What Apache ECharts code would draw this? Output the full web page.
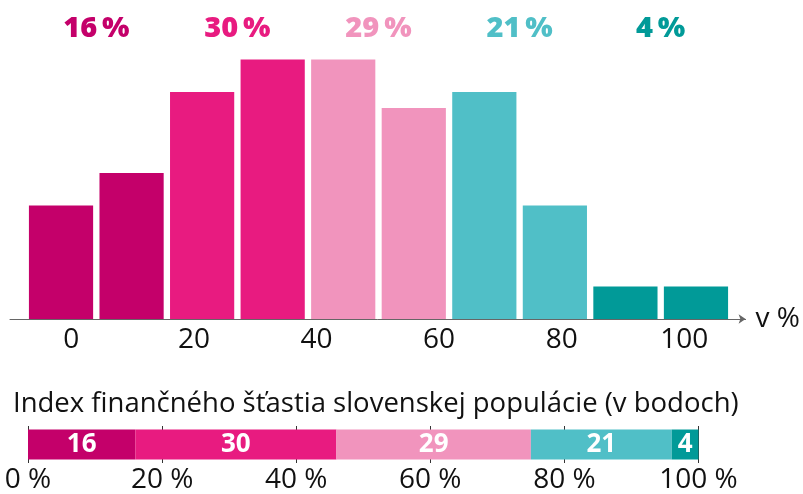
<!DOCTYPE html>
<html>
<head>
<meta charset="utf-8">
<script src="https://cdn.jsdelivr.net/npm/echarts@6/dist/echarts.min.js"></script>
<style>
  html, body { margin: 0; padding: 0; background: #fff; }
  #chart { width: 803px; height: 494px; }
</style>
</head>
<body>
<div id="chart"></div>
<script>
// rozdelenie populácie podľa indexu (v %)
var bins = ['1', '2', '3', '4', '5', '6', '7', '8', '9', '10'];
var binValues = [7, 9, 14, 16, 16, 13, 14, 7, 2, 2];
var groups = ['A', 'B', 'C', 'D', 'E'];
var groupShares = [16, 30, 29, 21, 4];
var groupColors = ['#c4006a', '#e81b80', '#f194bd', '#50bfc7', '#019a98'];
var scaleTicks = [0, 20, 40, 60, 80, 100];

var font = 'Open Sans';
var chart = echarts.init(document.getElementById('chart'));

var option = {
    animation: false,
    textStyle: { fontFamily: font },
    title: {
        text: 'Index finančného šťastia slovenskej populácie (v bodoch)',
        left: 8,
        top: 385,
        textStyle: { fontFamily: font, fontSize: 27.5, fontWeight: 'normal', color: '#111' }
    },
    grid: [
        { left: 25.75, width: 705.5, top: 27, height: 292 },
        { left: 10, width: 736, top: 27, height: 292 },
        { left: 28, width: 670.5, top: 426, height: 41 }
    ],
    xAxis: [
        { type: 'category', gridIndex: 0, data: bins, show: false },
        { type: 'category', gridIndex: 0, data: groups, show: false },
        {
            type: 'value', gridIndex: 1, min: -10, max: 110, interval: 10,
            axisLine: { show: true, symbol: ['none', 'arrow'], symbolSize: [7, 7], lineStyle: { color: '#666', width: 1 } },
            axisTick: { show: false },
            splitLine: { show: false },
            axisLabel: {
                margin: 7, fontSize: 28, color: '#111',
                formatter: function (v) { return scaleTicks.indexOf(v) >= 0 ? String(v) : ''; }
            },
            name: 'v %', nameLocation: 'end', nameGap: 10,
            nameTextStyle: { fontSize: 28, color: '#111', verticalAlign: 'middle', padding: [0, 0, 4, 0] }
        },
        {
            type: 'value', gridIndex: 2, min: 0, max: 100, interval: 20,
            axisLine: { show: false },
            axisTick: { show: false },
            splitLine: { show: true, lineStyle: { color: '#333', width: 1 } },
            axisLabel: { margin: 3, fontSize: 28, color: '#111', formatter: '{value} %' }
        }
    ],
    yAxis: [
        { type: 'value', gridIndex: 0, min: 0, max: 18, show: false },
        { type: 'value', gridIndex: 1, min: 0, max: 18, show: false },
        { type: 'category', gridIndex: 2, data: ['index'], show: false }
    ],
    series: [
        {
            type: 'bar',
            xAxisIndex: 0, yAxisIndex: 0,
            barCategoryGap: '9%',
            data: binValues.map(function (v, i) {
                return { value: v, itemStyle: { color: groupColors[Math.floor(i / 2)] } };
            })
        },
        {
            type: 'scatter',
            xAxisIndex: 1, yAxisIndex: 0,
            symbolSize: 0,
            itemStyle: { opacity: 1 },
            data: groupShares.map(function (s, i) {
                return {
                    value: 18,
                    label: { color: groupColors[i] }
                };
            }),
            label: {
                show: true, position: 'inside', offset: [0, 2],
                fontSize: 29, fontWeight: 800, fontFamily: font,
                textBorderWidth: 0, opacity: 1,
                formatter: function (p) { return groupShares[p.dataIndex] + '\u2009%'; }
            }
        }
    ].concat(groupShares.map(function (s, i) {
        return {
            type: 'bar',
            xAxisIndex: 3, yAxisIndex: 2,
            stack: 'total',
            barWidth: 30,
            itemStyle: { color: groupColors[i] },
            label: { show: true, position: 'inside', color: '#fff', fontSize: 26, fontWeight: 'bold', fontFamily: font },
            data: [s]
        };
    }))
};

chart.setOption(option);
</script>
</body>
</html>
